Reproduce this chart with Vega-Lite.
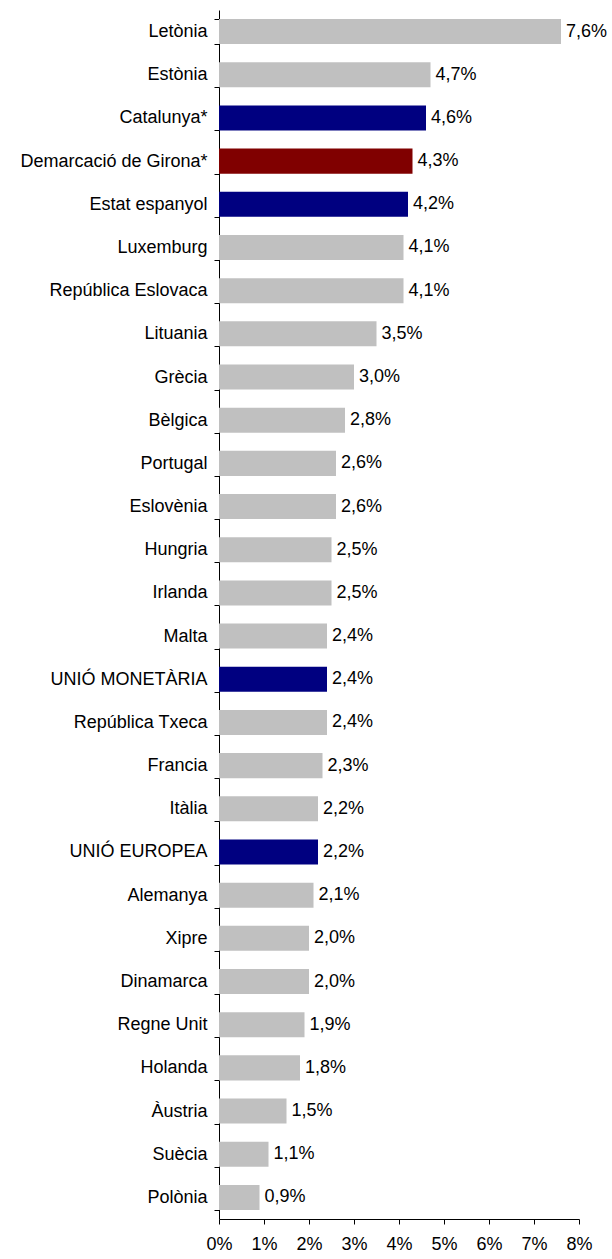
{
  "$schema": "https://vega.github.io/schema/vega-lite/v6.json",
  "width": 360,
  "height": 1209,
  "autosize": {"type": "none"},
  "padding": {"left": 219, "top": 10, "right": 33, "bottom": 40},
  "background": "white",
  "config": {
    "view": {"stroke": null},
    "font": "Liberation Sans",
    "axis": {"labelFont": "Liberation Sans", "labelColor": "black", "domainColor": "black", "tickColor": "black", "grid": false, "title": null}
  },
  "data": {
    "values": [
      {"pais": "Letònia", "valor": 7.6, "grup": "altres"},
      {"pais": "Estònia", "valor": 4.7, "grup": "altres"},
      {"pais": "Catalunya*", "valor": 4.6, "grup": "ref"},
      {"pais": "Demarcació de Girona*", "valor": 4.3, "grup": "girona"},
      {"pais": "Estat espanyol", "valor": 4.2, "grup": "ref"},
      {"pais": "Luxemburg", "valor": 4.1, "grup": "altres"},
      {"pais": "República Eslovaca", "valor": 4.1, "grup": "altres"},
      {"pais": "Lituania", "valor": 3.5, "grup": "altres"},
      {"pais": "Grècia", "valor": 3.0, "grup": "altres"},
      {"pais": "Bèlgica", "valor": 2.8, "grup": "altres"},
      {"pais": "Portugal", "valor": 2.6, "grup": "altres"},
      {"pais": "Eslovènia", "valor": 2.6, "grup": "altres"},
      {"pais": "Hungria", "valor": 2.5, "grup": "altres"},
      {"pais": "Irlanda", "valor": 2.5, "grup": "altres"},
      {"pais": "Malta", "valor": 2.4, "grup": "altres"},
      {"pais": "UNIÓ MONETÀRIA", "valor": 2.4, "grup": "ref"},
      {"pais": "República Txeca", "valor": 2.4, "grup": "altres"},
      {"pais": "Francia", "valor": 2.3, "grup": "altres"},
      {"pais": "Itàlia", "valor": 2.2, "grup": "altres"},
      {"pais": "UNIÓ EUROPEA", "valor": 2.2, "grup": "ref"},
      {"pais": "Alemanya", "valor": 2.1, "grup": "altres"},
      {"pais": "Xipre", "valor": 2.0, "grup": "altres"},
      {"pais": "Dinamarca", "valor": 2.0, "grup": "altres"},
      {"pais": "Regne Unit", "valor": 1.9, "grup": "altres"},
      {"pais": "Holanda", "valor": 1.8, "grup": "altres"},
      {"pais": "Àustria", "valor": 1.5, "grup": "altres"},
      {"pais": "Suècia", "valor": 1.1, "grup": "altres"},
      {"pais": "Polònia", "valor": 0.9, "grup": "altres"}
    ]
  },
  "transform": [
    {"calculate": "replace(format(datum.valor, '.1f'), '.', ',') + '%'", "as": "etiqueta"}
  ],
  "encoding": {
    "y": {
      "field": "pais",
      "type": "nominal",
      "sort": null,
      "scale": {"paddingInner": 0.42, "paddingOuter": 0.21},
      "axis": {"tickBand": "extent", "tickSize": 5, "labelFontSize": 18, "labelPadding": 7, "labelLimit": 0, "domainWidth": 1, "tickWidth": 1}
    },
    "x": {
      "field": "valor",
      "type": "quantitative",
      "scale": {"domain": [0, 8], "nice": false},
      "axis": {"values": [0, 1, 2, 3, 4, 5, 6, 7, 8], "labelExpr": "datum.value + '%'", "tickSize": 5, "labelFontSize": 18, "labelPadding": 11, "labelFlush": false}
    }
  },
  "layer": [
    {
      "mark": {"type": "bar"},
      "encoding": {
        "color": {
          "field": "grup",
          "type": "nominal",
          "scale": {"domain": ["altres", "ref", "girona"], "range": ["#C0C0C0", "#000080", "#800000"]},
          "legend": null
        }
      }
    },
    {
      "mark": {"type": "text", "align": "left", "baseline": "middle", "dx": 5, "fontSize": 18, "font": "Liberation Sans", "color": "black"},
      "encoding": {"text": {"field": "etiqueta"}}
    }
  ]
}
